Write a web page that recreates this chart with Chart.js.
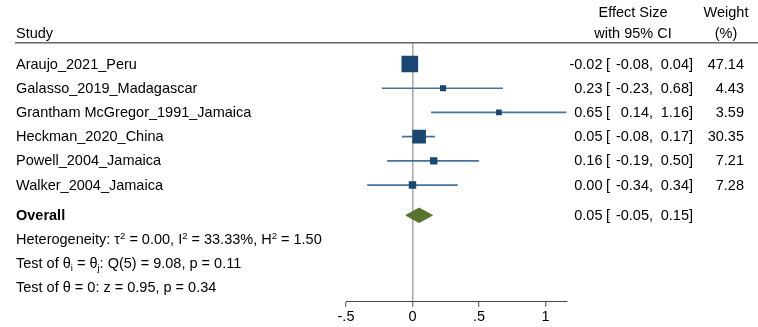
<!DOCTYPE html>
<html>
<head>
<meta charset="utf-8">
<script src="https://cdn.jsdelivr.net/npm/chart.js@4.4.1/dist/chart.umd.min.js"></script>
<style>
  html, body { margin: 0; padding: 0; background: #ffffff; }
  canvas { display: block; }
</style>
</head>
<body>
<canvas id="forest" width="758" height="327"></canvas>
<script>
// ---- Study-level results ----
const studies = [
  'Araujo_2021_Peru',
  'Galasso_2019_Madagascar',
  'Grantham McGregor_1991_Jamaica',
  'Heckman_2020_China',
  'Powell_2004_Jamaica',
  'Walker_2004_Jamaica'
];
const effect = [-0.02, 0.23, 0.65, 0.05, 0.16, 0.00];
const ciLow  = [-0.08, -0.23, 0.14, -0.08, -0.19, -0.34];
const ciHigh = [0.04, 0.68, 1.16, 0.17, 0.50, 0.34];
const weight = [47.14, 4.43, 3.59, 30.35, 7.21, 7.28];

// ---- Pooled estimate and test statistics ----
const overallEffect = 0.05;
const overallLow = -0.05;
const overallHigh = 0.15;
const tau2 = 0.00, i2 = 33.33, h2 = 1.50;
const qStat = 9.08, qDf = 5, qP = 0.11;
const zStat = 0.95, zP = 0.34;

// ---- Axis ticks ----
const xTicks = [-0.5, 0, 0.5, 1];
const xTickLabels = ['-.5', '0', '.5', '1'];

// ---- Layout (row positions on the hidden y scale) ----
const OVERALL_ROW = 6.25;
const STAT_ROWS = [7.25, 8.25, 9.25];
const FONT = '"Liberation Sans", Arial, Helvetica, sans-serif';
const FSIZE = 14.5;
const NAVY = '#1a476f';
const CI_BLUE = '#45729e';
const OLIVE = '#55752f';

// CI segments, separated by gaps
const ciData = [];
studies.forEach((s, i) => {
  ciData.push({ x: ciLow[i], y: i }, { x: ciHigh[i], y: i }, { x: null, y: null });
});
// square markers, area proportional to weight
const markerData = studies.map((s, i) => ({ x: effect[i], y: i }));
const markerRadius = weight.map(w => (2.2 * Math.sqrt(w) + 1.5) / Math.SQRT2);
// pooled diamond
const DH = 0.3;
const diamondData = [
  { x: overallLow, y: OVERALL_ROW },
  { x: overallEffect, y: OVERALL_ROW - DH },
  { x: overallHigh, y: OVERALL_ROW },
  { x: overallEffect, y: OVERALL_ROW + DH },
  { x: overallLow, y: OVERALL_ROW }
];

function drawRich(ctx, x, y, parts) {
  let cx = x;
  parts.forEach(p => {
    const size = p.sub || p.sup ? 9.5 : FSIZE;
    ctx.font = (p.bold ? 'bold ' : '') + size + 'px ' + FONT;
    let dy = 0;
    if (p.sub) dy = 4;
    if (p.sup) dy = -4;
    ctx.fillText(p.t, cx, y + dy);
    cx += ctx.measureText(p.t).width;
  });
}

const textPlugin = {
  id: 'forestText',
  afterDraw(chart) {
    const ctx = chart.ctx;
    const ys = chart.scales.y;
    ctx.save();
    ctx.fillStyle = '#000';
    ctx.textBaseline = 'middle';

    // header
    ctx.font = FSIZE + 'px ' + FONT;
    ctx.textAlign = 'left';
    ctx.fillText('Study', 16, 33.5);
    ctx.textAlign = 'center';
    ctx.fillText('Effect Size', 633, 12.5);
    ctx.fillText('with 95% CI', 633, 33.5);
    ctx.fillText('Weight', 726, 12.5);
    ctx.fillText('(%)', 726, 33.5);

    ctx.strokeStyle = '#666';
    ctx.lineWidth = 1.5;
    ctx.beginPath();
    ctx.moveTo(15, 42.75);
    ctx.lineTo(758, 42.75);
    ctx.stroke();

    const estCols = (y, est, lo, hi) => {
      ctx.textAlign = 'right';
      ctx.fillText(est.toFixed(2), 602.5, y);
      ctx.textAlign = 'left';
      ctx.fillText('[', 606, y);
      ctx.textAlign = 'right';
      ctx.fillText(lo.toFixed(2), 649, y);
      ctx.textAlign = 'left';
      ctx.fillText(',', 649, y);
      ctx.textAlign = 'right';
      ctx.fillText(hi.toFixed(2), 689, y);
      ctx.textAlign = 'left';
      ctx.fillText(']', 689, y);
    };

    studies.forEach((s, i) => {
      const y = ys.getPixelForValue(i) + 0.5;
      ctx.font = FSIZE + 'px ' + FONT;
      ctx.textAlign = 'left';
      ctx.fillText(s, 16, y);
      estCols(y, effect[i], ciLow[i], ciHigh[i]);
      ctx.textAlign = 'right';
      ctx.fillText(weight[i].toFixed(2), 744, y);
    });

    // overall row
    const yo = ys.getPixelForValue(OVERALL_ROW) + 0.5;
    ctx.textAlign = 'left';
    ctx.font = 'bold ' + FSIZE + 'px ' + FONT;
    ctx.fillText('Overall', 16, yo);
    ctx.font = FSIZE + 'px ' + FONT;
    estCols(yo, overallEffect, overallLow, overallHigh);

    // statistics
    ctx.textAlign = 'left';
    drawRich(ctx, 16, ys.getPixelForValue(STAT_ROWS[0]) + 0.5, [
      { t: 'Heterogeneity: \u03C4' }, { t: '2', sup: true },
      { t: ' = ' + tau2.toFixed(2) + ', I' }, { t: '2', sup: true },
      { t: ' = ' + i2.toFixed(2) + '%, H' }, { t: '2', sup: true },
      { t: ' = ' + h2.toFixed(2) }
    ]);
    drawRich(ctx, 16, ys.getPixelForValue(STAT_ROWS[1]) + 0.5, [
      { t: 'Test of \u03B8' }, { t: 'i', sub: true },
      { t: ' = \u03B8' }, { t: 'j', sub: true },
      { t: ': Q(' + qDf + ') = ' + qStat.toFixed(2) + ', p = ' + qP.toFixed(2) }
    ]);
    drawRich(ctx, 16, ys.getPixelForValue(STAT_ROWS[2]) + 0.5, [
      { t: 'Test of \u03B8 = 0: z = ' + zStat.toFixed(2) + ', p = ' + zP.toFixed(2) }
    ]);
    ctx.restore();
  }
};

new Chart(document.getElementById('forest'), {
  type: 'scatter',
  data: {
    datasets: [
      {
        type: 'line',
        data: diamondData,
        borderColor: OLIVE,
        backgroundColor: OLIVE,
        borderWidth: 1,
        fill: 'shape',
        pointRadius: 0,
        tension: 0,
        order: 3
      },
      {
        type: 'line',
        data: ciData,
        borderColor: CI_BLUE,
        borderWidth: 1.7,
        pointRadius: 0,
        spanGaps: false,
        fill: false,
        tension: 0,
        order: 2
      },
      {
        type: 'scatter',
        data: markerData,
        pointStyle: 'rect',
        pointRadius: markerRadius,
        backgroundColor: NAVY,
        borderColor: NAVY,
        borderWidth: 0,
        order: 1
      }
    ]
  },
  options: {
    responsive: false,
    animation: false,
    events: [],
    layout: { padding: { left: 346, right: 191.3, top: 42.75, bottom: 0 } },
    plugins: { legend: { display: false }, tooltip: { enabled: false } },
    scales: {
      x: {
        type: 'linear',
        min: -0.5,
        max: Math.max(...ciHigh),
        afterBuildTicks: s => { s.ticks = xTicks.map(v => ({ value: v })); },
        afterFit: s => { s.height = 25.3; },
        ticks: {
          callback: v => {
            const k = xTicks.indexOf(v);
            return k >= 0 ? xTickLabels[k] : '';
          },
          color: '#000',
          font: { size: FSIZE, family: FONT },
          padding: 2,
          maxRotation: 0,
          autoSkip: false
        },
        grid: {
          display: true,
          drawOnChartArea: true,
          color: c => (c.tick && c.tick.value === 0 ? '#a8a8a8' : 'rgba(0,0,0,0)'),
          lineWidth: 1.5,
          tickLength: 5,
          tickColor: '#444',
          tickWidth: 1
        },
        border: { display: true, color: '#444', width: 1 }
      },
      y: {
        type: 'linear',
        reverse: true,
        min: -0.88,
        max: 9.82,
        display: false
      }
    }
  },
  plugins: [textPlugin]
});
</script>
</body>
</html>
